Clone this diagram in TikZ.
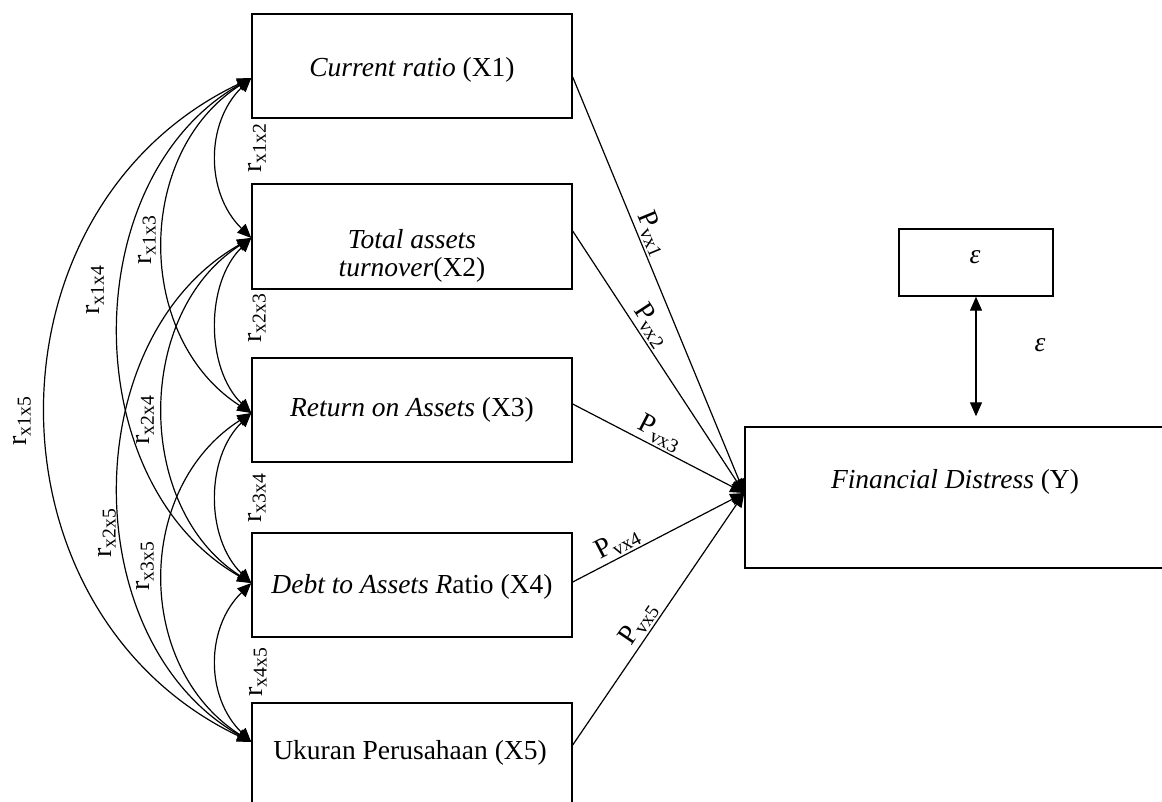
\documentclass[tikz,border=0pt]{standalone}
\usepackage{fontspec}
\setmainfont{Liberation Serif}
\usetikzlibrary{arrows.meta,calc}
\begin{document}
\begin{tikzpicture}[x=1pt,y=-1pt,
  box/.style={draw, line width=1.4pt, inner sep=0pt},
  lbl/.style={font=\fontsize{27.5}{31}\selectfont, align=center, inner sep=0pt},
  conn/.style={line width=1.2pt},
  tip/.style={-{Triangle[length=14pt,width=12pt]}},
  rr/.style={conn, {Triangle[length=14pt,width=12pt]}-{Triangle[length=14pt,width=12pt]}},
  rlab/.style={font=\fontsize{28}{32}\selectfont, rotate=90, inner sep=0pt},
  plab/.style={font=\fontsize{28}{32}\selectfont, sloped, above, inner sep=2pt}]
\clip (0,0) rectangle (1162,801);
% boxes
\node[box, minimum width=320pt, minimum height=104pt] (x1) at (412,66) {};
\node[box, minimum width=320pt, minimum height=105pt] (x2) at (412,236.5) {};
\node[box, minimum width=320pt, minimum height=104pt] (x3) at (412,410) {};
\node[box, minimum width=320pt, minimum height=104pt] (x4) at (412,585) {};
\node[box, minimum width=320pt, minimum height=127pt] (x5) at (412,766.5) {};
\node[box, minimum width=455pt, minimum height=141pt] (y) at (972.5,497.5) {};
\node[box, minimum width=154pt, minimum height=67pt] (e) at (976,262.5) {};
% texts
\node[lbl] (t1) at (412,70) {\textit{Current ratio} (X1)};
\node[lbl] (t2) at (412,256) {\textit{Total assets}\\[-3pt]\textit{turnover}(X2)};
\node[lbl] (t3) at (412,410) {\textit{Return on Assets} (X3)};
\node[lbl] (t4) at (412,587) {\textit{Debt to Assets R}atio (X4)};
\node[lbl] (t5) at (410,753) {Ukuran Perusahaan (X5)};
\node[lbl] (ty) at (955,482) {\textit{Financial Distress} (Y)};
\node[lbl] (te) at (975,257) {\textit{ε}};
\node[lbl] (el) at (1040,345) {\textit{ε}};
% anchor coordinates
\coordinate (a1) at ($(x1.west)+(0,12)$);
\coordinate (a2) at ($(x2.west)+(0,1.5)$);
\coordinate (a3) at ($(x3.west)+(0,3)$);
\coordinate (a4) at ($(x4.west)+(0,-2)$);
\coordinate (a5) at ($(x5.west)+(0,-24.5)$);
\coordinate (b1) at ($(x1.east)+(0,11)$);
\coordinate (b2) at ($(x2.east)+(0,-5.5)$);
\coordinate (b3) at ($(x3.east)+(0,-6)$);
\coordinate (b4) at ($(x4.east)+(0,-3)$);
\coordinate (b5) at ($(x5.east)+(0,-21.5)$);
\coordinate (yc) at ($(y.west)+(0,-4.5)$);
% correlation curves
\draw[rr] (a1) .. controls +(-46,45) and +(-46,-45) .. (a2);
\draw[rr] (a2) .. controls +(-46,45) and +(-46,-45) .. (a3);
\draw[rr] (a3) .. controls +(-46,45) and +(-46,-45) .. (a4);
\draw[rr] (a4) .. controls +(-46,45) and +(-46,-45) .. (a5);
\draw[rr] (a1) .. controls +(-117,75) and +(-117,-75) .. (a3);
\draw[rr] (a2) .. controls +(-117,75) and +(-117,-75) .. (a4);
\draw[rr] (a3) .. controls +(-117,75) and +(-117,-75) .. (a5);
\draw[rr] (a1) .. controls +(-176,100) and +(-176,-100) .. (a4);
\draw[rr] (a2) .. controls +(-176,100) and +(-176,-100) .. (a5);
\draw[rr] (a1) .. controls +(-273,130) and +(-273,-130) .. (a5);
% r labels
\node[rlab] (r12) at (257,148) {r\textsubscript{x1x2}};
\node[rlab] (r13) at (147,240) {r\textsubscript{x1x3}};
\node[rlab] (r14) at (95,290) {r\textsubscript{x1x4}};
\node[rlab] (r15) at (22,421) {r\textsubscript{x1x5}};
\node[rlab] (r23) at (257,318) {r\textsubscript{x2x3}};
\node[rlab] (r24) at (145,420) {r\textsubscript{x2x4}};
\node[rlab] (r34) at (257,498) {r\textsubscript{x3x4}};
\node[rlab] (r25) at (107,533) {r\textsubscript{x2x5}};
\node[rlab] (r35) at (145,566) {r\textsubscript{x3x5}};
\node[rlab] (r45) at (258,672) {r\textsubscript{x4x5}};
% paths to Y
\draw[conn,tip] (b1) -- node[plab, pos=0.39] {P\textsubscript{vx1}} (yc);
\draw[conn,tip] (b2) -- node[plab, pos=0.39] {P\textsubscript{vx2}} (yc);
\draw[conn,tip] (b3) -- node[plab, pos=0.47] {P\textsubscript{vx3}} (yc);
\draw[conn,tip] (b4) -- node[plab, pos=0.30] {P\textsubscript{vx4}} (yc);
\draw[conn,tip] (b5) -- node[plab, pos=0.45] {P\textsubscript{vx5}} (yc);
% error arrow
\draw[rr, shorten >=10pt] (e.south) -- (e.south |- y.north);
\end{tikzpicture}
\end{document}
